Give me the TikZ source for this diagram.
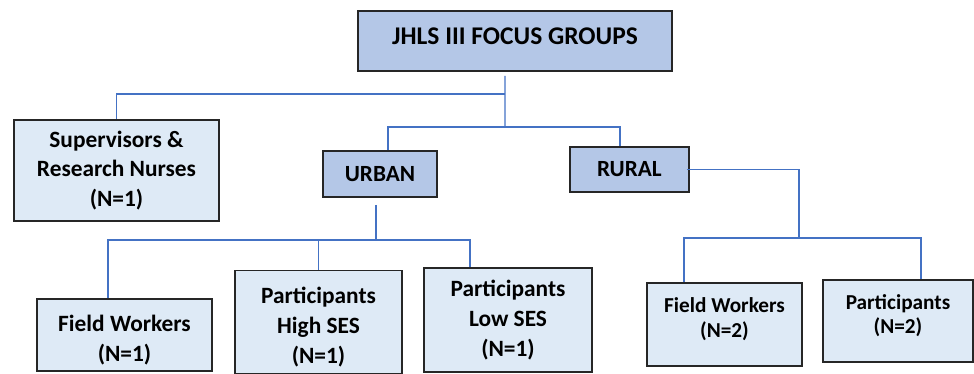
\documentclass[tikz,border=0pt]{standalone}
\usepackage{fontspec}
\setmainfont{Carlito}
\usepackage{tikz}
\usetikzlibrary{positioning, calc}
\definecolor{boxline}{HTML}{262626}
\definecolor{headfill}{HTML}{B4C7E7}
\definecolor{groupfill}{HTML}{DEEAF6}
\definecolor{linkblue}{HTML}{4472C4}
\newcommand{\toppad}{\rule{0pt}{0.52cm}}
\newcommand{\botpad}{\rule[-0.28cm]{0pt}{0pt}}
\tikzset{
    headbox/.style={draw=boxline, line width=0.9pt, fill=headfill, align=center, inner sep=2pt, font=\bfseries\fontsize{13.2}{16.8}\selectfont},
    groupbox/.style={draw=boxline, line width=0.9pt, fill=groupfill, align=center, inner sep=2pt, font=\bfseries\fontsize{13.3}{17}\selectfont},
    smallgroup/.style={groupbox, font=\bfseries\fontsize{12.1}{13.8}\selectfont},
    link/.style={draw=linkblue, line width=0.6pt}
}

\begin{document}
\begin{tikzpicture}[x=0.02cm, y=-0.02cm]
        \useasboundingbox (0,0) rectangle (974,373);

        % top level
        \node[headbox, minimum width=6.28cm, minimum height=1.2cm, text depth=0.2cm,
              font=\bfseries\fontsize{14.5}{17}\selectfont] (title) at (515,41) {JHLS III FOCUS GROUPS};

        \node[groupbox, minimum width=4.1cm, minimum height=2.02cm] (sup) at (116.5,170.5) {Supervisors \&\\Research Nurses\\(N=1)};
        \node[headbox, minimum width=2.28cm, minimum height=0.92cm] (urban) at (380,174) {URBAN};
        \node[headbox, minimum width=2.38cm, minimum height=0.9cm] (rural) at (629.5,169.5) {RURAL};

        % urban groups
        \node[groupbox, minimum width=3.5cm, minimum height=1.44cm] (fwurban) at (124.5,335) {\toppad Field Workers\\(N=1)};
        \node[groupbox, minimum width=3.34cm, minimum height=2.06cm] (highses) at (318.5,322) {\toppad Participants\\High SES\\(N=1)};
        \node[groupbox, minimum width=3.36cm, minimum height=2.08cm] (lowses) at (508,320) {Participants\\Low SES\\(N=1)};

        % rural groups
        \node[smallgroup, minimum width=3.1cm, minimum height=1.66cm] (fwrural) at (724.5,324.5) {Field Workers\\(N=2)\botpad};
        \node[smallgroup, minimum width=3.0cm, minimum height=1.64cm] (partrural) at (898,321) {Participants\\(N=2)\botpad};

        % junctions
        \coordinate (supbar) at (505,94);
        \coordinate (topbar) at (505,127);
        \coordinate (urbanbar) at (376,240);
        \coordinate (ruralbar) at (799,238);

        \draw[link, shorten <=0.08cm] ([xshift=-0.2cm]title.south) -- (topbar);
        \draw[link] (supbar) -| (sup.north);
        \draw[link] ([xshift=0.16cm]urban.north) |- (topbar) -| ([xshift=-0.19cm]rural.north);

        \draw[link, shorten <=0.14cm] (urban.south -| urbanbar) -- (urbanbar);
        \draw[link] ([xshift=-0.33cm]fwurban.north) |- (urbanbar) -| ([xshift=-0.76cm]lowses.north);
        \draw[link] (highses.north) -- (highses.north |- urbanbar);

        \draw[link] ([xshift=-0.06cm]rural.east) -| (ruralbar);
        \draw[link] ([xshift=-0.81cm]fwrural.north) |- (ruralbar) -| ([xshift=0.46cm]partrural.north);
      \end{tikzpicture}
\end{document}
